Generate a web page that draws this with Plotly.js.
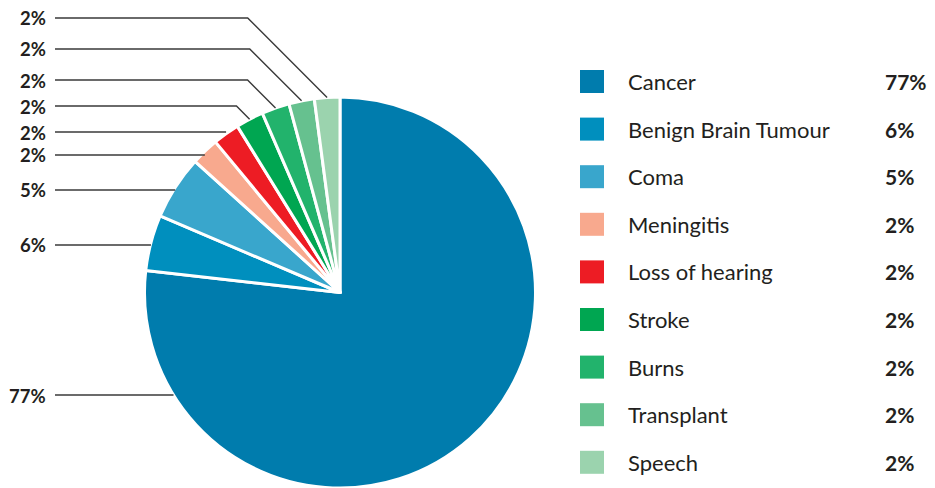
<!DOCTYPE html>
<html>
<head>
<meta charset="utf-8">
<script src="https://cdn.plot.ly/plotly-3.0.1.min.js"></script>
<style>html,body{margin:0;padding:0;background:#fff;}#chart{width:935px;height:488px;}</style>
</head>
<body>
<div id="chart"></div>
<script>
// Data
var categories = ["Cancer", "Benign Brain Tumour", "Coma", "Meningitis", "Loss of hearing", "Stroke", "Burns", "Transplant", "Speech"];
var sliceValues = [76.8, 4.6, 5.3, 2.3, 2.2, 2.3, 2.3, 2.1, 2.1];
var pctLabels = ["77%", "6%", "5%", "2%", "2%", "2%", "2%", "2%", "2%"];
var colors = ["#007cad", "#008fbe", "#39a6cc", "#f8a98e", "#ed1c24", "#00a651", "#22b36c", "#66c18f", "#9bd3ae"];

// Layout helpers (pixel positions)
var W = 935, H = 488;
var labelY = [395, 245, 190, 155, 132, 106, 80, 49, 18];
var legendTop = 81.5, legendStep = 47.6;

var domX = [144 / W, 536 / W], domY = [0, (H - 97) / H];
var R = Math.min((domX[1] - domX[0]) * W, (domY[1] - domY[0]) * H) / 2;
var cx = (domX[0] + domX[1]) / 2 * W;
var cy = H - (domY[0] + domY[1]) / 2 * H;

function px(x) { return x / W; }
function py(y) { return 1 - y / H; }

var total = sliceValues.reduce(function (a, b) { return a + b; }, 0);
var shapes = [], annotations = [];
var cum = 0;
var textColor = "#231f20";
var fam = "Lato, 'DejaVu Sans', sans-serif";
for (var i = 0; i < categories.length; i++) {
  var mid = (cum + sliceValues[i] / 2) / total;
  cum += sliceValues[i];
  var ly = labelY[i], ax, ay;
  if (i === 0) {
    ay = ly;
    ax = cx - Math.sqrt(R * R - (ay - cy) * (ay - cy));
  } else {
    var th = mid * 2 * Math.PI;
    ax = cx + R * Math.sin(th);
    ay = cy - R * Math.cos(th);
  }
  var path;
  if (ay - ly > 4) {
    var ex = ax - (ay - ly);
    path = "M" + px(55) + "," + py(ly) + " L" + px(ex) + "," + py(ly) + " L" + px(ax) + "," + py(ay);
  } else {
    path = "M" + px(55) + "," + py(ly) + " L" + px(ax) + "," + py(ly);
  }
  shapes.push({type: "path", xref: "paper", yref: "paper", path: path,
    line: {color: "#3a3a3a", width: 1.4}});
  annotations.push({xref: "paper", yref: "paper", x: px(47), y: py(ly + 0.5), xanchor: "right", yanchor: "middle",
    text: "<b>" + pctLabels[i] + "</b>", showarrow: false, borderpad: 0,
    font: {family: fam, size: 18.5, color: textColor}});

  // custom legend
  var yy = legendTop + i * legendStep;
  shapes.push({type: "rect", xref: "paper", yref: "paper", x0: px(580), x1: px(604), y0: py(yy - 11.5), y1: py(yy + 11.5),
    fillcolor: colors[i], line: {width: 0}});
  annotations.push({xref: "paper", yref: "paper", x: px(626), y: py(yy), xanchor: "left", yanchor: "middle",
    text: categories[i], showarrow: false,
    font: {family: fam, size: 22, color: textColor}});
  annotations.push({xref: "paper", yref: "paper", x: px(883), y: py(yy), xanchor: "left", yanchor: "middle",
    text: "<b>" + pctLabels[i] + "</b>", showarrow: false,
    font: {family: fam, size: 21, color: textColor}});
}

var trace = {
  type: "pie",
  labels: categories,
  values: sliceValues,
  sort: false,
  direction: "clockwise",
  rotation: 0,
  textinfo: "none",
  hoverinfo: "label+percent",
  marker: {colors: colors, line: {color: "#ffffff", width: 3}},
  domain: {x: domX, y: domY},
  showlegend: false
};

var layout = {
  width: W, height: H,
  margin: {l: 0, r: 0, t: 0, b: 0},
  paper_bgcolor: "#ffffff",
  plot_bgcolor: "#ffffff",
  showlegend: false,
  shapes: shapes,
  annotations: annotations
};

Plotly.newPlot("chart", [trace], layout, {displayModeBar: false, staticPlot: true});
</script>
</body>
</html>
